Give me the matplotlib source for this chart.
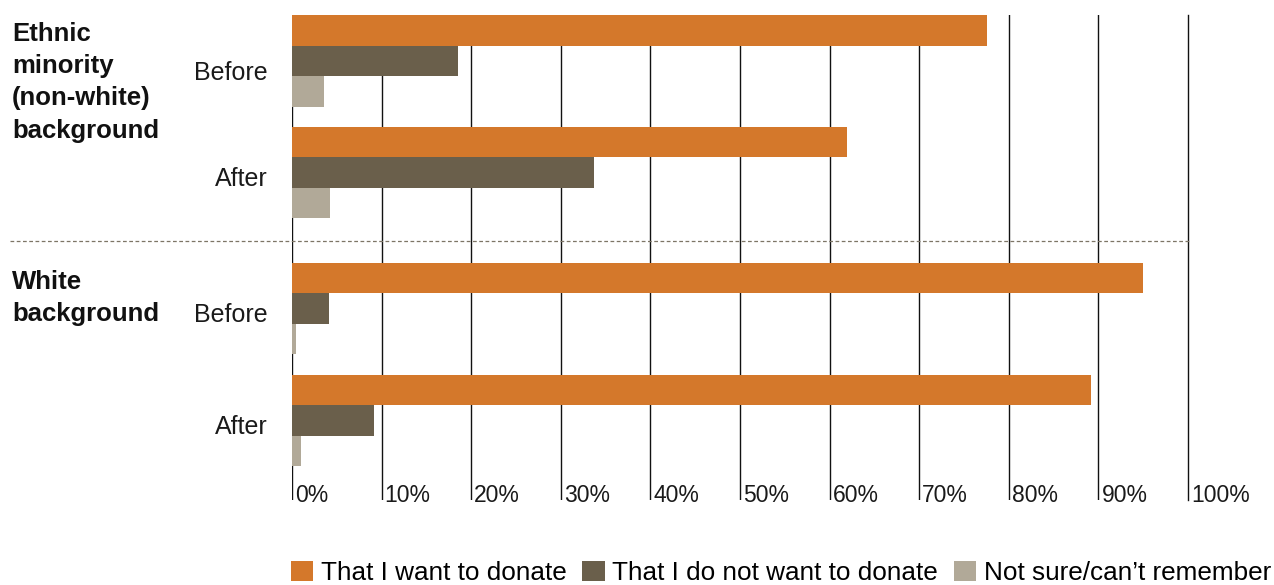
import numpy as np
import matplotlib.pyplot as plt
from matplotlib.patches import Patch
from matplotlib.transforms import blended_transform_factory

plt.rcParams['font.family'] = ['Liberation Sans', 'DejaVu Sans']

groups = ['Ethnic\nminority\n(non-white)\nbackground', 'White\nbackground']
periods = ['Before', 'After']
series = ['That I want to donate', 'That I do not want to donate', 'Not sure/can\u2019t remember']
colors = ['#D4782B', '#6A5F4B', '#B1A998']

# values in %, order: ethnic-before, ethnic-after, white-before, white-after
want = [77.6, 61.9, 95.0, 89.2]
not_want = [18.5, 33.7, 4.1, 9.2]
not_sure = [3.6, 4.2, 0.4, 1.0]
ticks = np.arange(0, 101, 10)

W, H = 1274, 585
fig = plt.figure(figsize=(W / 100, H / 100), dpi=100)
ax = fig.add_axes([292 / W, 1 - 500 / H, 896 / W, 485 / H])

bar_h = 1.0
sub_gap = 0.67
grp_gap = 1.46
starts = []
for g in range(2):
    for p in range(2):
        starts.append(g * (6 + sub_gap + grp_gap) + p * (3 + sub_gap))
starts = np.array(starts)

for k, (vals, c) in enumerate(zip([want, not_want, not_sure], colors)):
    ax.barh(starts + k + 0.5, vals, height=bar_h, color=c, zorder=2)

ax.set_xlim(0, 100)
ax.set_ylim(15.9, 0)
for t in ticks:
    ax.axvline(t, color='#111111', lw=1.0, zorder=1, clip_on=(t < 100))
for s in ax.spines.values():
    s.set_visible(False)
ax.set_xticks([])
ax.set_yticks([])

trans = blended_transform_factory(ax.transData, ax.transAxes)
for t in ticks:
    ax.text(t + 0.35, -0.004, f'{t}%', transform=trans, ha='left', va='baseline',
            fontsize=16.5, color='#1a1a1a')

ytrans = blended_transform_factory(fig.transFigure, ax.transData)
for i, st in enumerate(starts):
    off = 0.4 if i == 0 else 0.2
    ax.text(268 / W, st + 1.5 + off, periods[i % 2], transform=ytrans, ha='right',
            va='center', fontsize=18, color='#1a1a1a')

for g, lab in enumerate(groups):
    ax.text(12 / W, starts[2 * g] + 0.22, lab, transform=ytrans, ha='left', va='top',
            fontsize=18.5, fontweight='bold', linespacing=1.44, color='#111111')

mid = (starts[1] + 3 + starts[2]) / 2
ax.plot([-0.315, 1.002], [mid, mid], transform=blended_transform_factory(ax.transAxes, ax.transData),
        color='#7d7566', lw=0.9, ls=(0, (3, 2)), clip_on=False)

handles = [Patch(facecolor=c, edgecolor='none') for c in colors]
fig.legend(handles, series, loc='lower left', bbox_to_anchor=(291 / W, 0.0), ncol=3,
           frameon=False, fontsize=18.8, handlelength=0.85, handleheight=0.85,
           handletextpad=0.3, columnspacing=0.6, borderpad=0, borderaxespad=0)

fig.savefig('out.png', dpi=100)
